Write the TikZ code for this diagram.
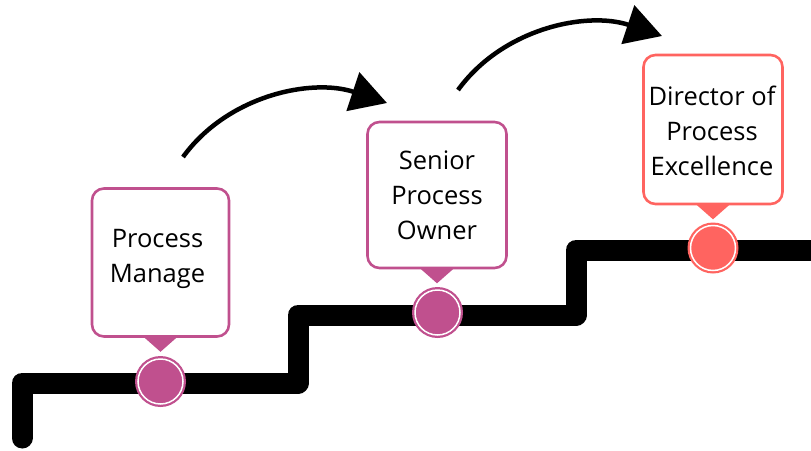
\documentclass[tikz,border=0pt]{standalone}
\usepackage{fontspec}
\setmainfont{Open Sans}
\usetikzlibrary{arrows.meta}
\definecolor{mag}{RGB}{192,80,142}
\definecolor{coral}{RGB}{255,100,96}
\tikzset{
  box/.style={draw=#1, line width=2.6pt, rounded corners=12pt, fill=white, minimum width=137pt, minimum height=148pt, inner sep=0pt},
  txt/.style={align=center, font=\fontsize{25.5}{35}\selectfont, text=black, inner sep=0pt},
  dot/.style={circle, fill=#1, minimum size=51pt, inner sep=0pt},
  ring/.style={draw=white, line width=1.5pt},
  stair/.style={line width=21pt, line join=round, line cap=round, draw=black},
  jump/.style={line width=4.5pt, -{Triangle[length=36pt,width=40pt]}, draw=black}
}
\begin{document}
\begin{tikzpicture}[x=1pt,y=-1pt]
\useasboundingbox (0,0) rectangle (811,450);
\clip (0,0) rectangle (811,450);
% staircase
\coordinate (s0) at (22,438);
\coordinate (s1) at (22,383);
\coordinate (s2) at (298,383);
\coordinate (s3) at (298,315);
\coordinate (s4) at (576,315);
\coordinate (s5) at (576,250);
\coordinate (s6) at (830,250);
\draw[stair] (s0) -- (s1) -- (s2) -- (s3) -- (s4) -- (s5) -- (s6);
% boxes
\node[box=mag] (b1) at (160.5,262.5) {};
\node[box=mag, minimum width=139pt, minimum height=146pt] (b2) at (437,195) {};
\node[box=coral, minimum width=139pt, minimum height=149pt] (b3) at (713,129.5) {};
\fill[mag] ([xshift=-17pt,yshift=1pt]b1.south) -- ([xshift=17pt,yshift=1pt]b1.south) -- ([yshift=-14pt]b1.south) -- cycle;
\fill[mag] ([xshift=-17pt,yshift=1pt]b2.south) -- ([xshift=17pt,yshift=1pt]b2.south) -- ([yshift=-14pt]b2.south) -- cycle;
\fill[coral] ([xshift=-17pt,yshift=1pt]b3.south) -- ([xshift=17pt,yshift=1pt]b3.south) -- ([yshift=-14pt]b3.south) -- cycle;
\node[txt] (t1) at ([xshift=-3pt,yshift=4pt]b1.center) {Process\\Manage};
\node[txt] (t2) at (b2.center) {Senior\\Process\\Owner};
\node[txt] (t3) at ([xshift=-1pt,yshift=-1pt]b3.center) {Director of\\Process\\Excellence};
% dots
\node[dot=mag] (c1) at (160.5,381.5) {};
\node[dot=mag] (c2) at (437.5,312.5) {};
\node[dot=coral] (c3) at (713,248) {};
\draw[ring] (c1) circle (22.5pt);
\draw[ring] (c2) circle (22.5pt);
\draw[ring] (c3) circle (22.5pt);
% arrows
\coordinate (a1s) at (183,157);
\coordinate (a1e) at (387,103);
\coordinate (a2s) at (458,90);
\coordinate (a2e) at (662,36);
\draw[jump] (a1s) .. controls ++(45,-62) and ++(-75,-25) .. (a1e);
\draw[jump] (a2s) .. controls ++(45,-62) and ++(-75,-25) .. (a2e);
\end{tikzpicture}
\end{document}
